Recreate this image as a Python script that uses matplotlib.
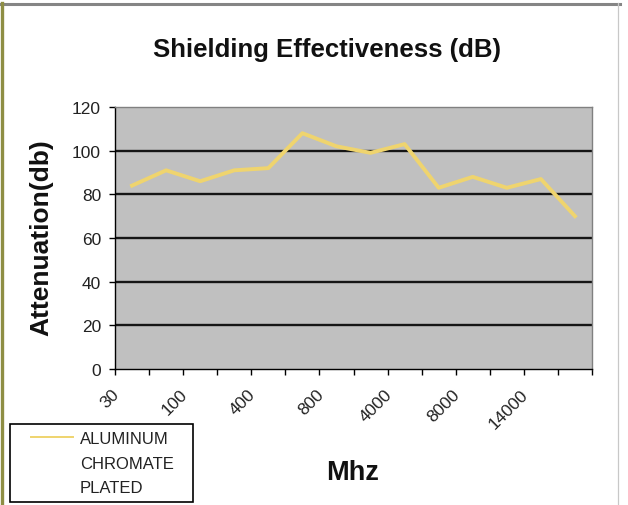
import numpy as np
import matplotlib
matplotlib.use("Agg")
import matplotlib.pyplot as plt
from matplotlib.lines import Line2D
from matplotlib.transforms import ScaledTranslation

# ---------------- data ----------------
title = "Shielding Effectiveness (dB)"
y_label = "Attenuation(db)"
x_label = "Mhz"
series_name = "ALUMINUM\nCHROMATE\nPLATED"
freq_labels = ["30", "100", "400", "800", "4000", "8000", "14000"]   # shown on every 2nd point
attenuation = [84, 91, 86, 91, 92, 108, 102, 99, 103, 83, 88, 83, 87, 70]
y_ticks = [0, 20, 40, 60, 80, 100, 120]

plt.rcParams['font.family'] = ['Liberation Sans', 'DejaVu Sans']

W, H, DPI = 628, 506, 100
fig = plt.figure(figsize=(W / DPI, H / DPI), dpi=DPI)
fig.patch.set_facecolor('white')


def fx(px):
    return px / W


def fy(py):
    return 1 - py / H


ax = fig.add_axes([fx(115), fy(370), fx(592) - fx(115), fy(108) - fy(370)])
ax.set_facecolor('#C0C0C0')

x = np.arange(len(attenuation))
line, = ax.plot(x, attenuation, color='#EFD46E', lw=2.8, zorder=3)

ax.set_xlim(-0.5, len(attenuation) - 0.5)
ax.set_ylim(y_ticks[0], y_ticks[-1])
ax.set_yticks(y_ticks)
for v in y_ticks[1:-1]:
    ax.axhline(v, color='#151515', lw=1.7, zorder=1)

for s in ['left', 'bottom']:
    ax.spines[s].set_color('black')
    ax.spines[s].set_linewidth(1.0)
for s in ['top', 'right']:
    ax.spines[s].set_color('#808080')
    ax.spines[s].set_linewidth(1.0)

ax.tick_params(axis='y', length=4, width=1, color='black', pad=6,
               labelsize=12.5, labelcolor='#222222')

# x axis: tick marks between categories, labels on every second category
ax.set_xticks(np.arange(-0.5, len(attenuation) + 0.5, 1), minor=True)
ax.tick_params(axis='x', which='minor', length=4, width=1, color='black')
ax.set_xticks(x[::2])
ax.set_xticklabels(freq_labels)
ax.tick_params(axis='x', which='major', length=0, pad=16,
               labelsize=12.5, labelcolor='#222222')
offset = ScaledTranslation(-15 / DPI, 0, fig.dpi_scale_trans)
for lab in ax.get_xticklabels():
    lab.set_rotation(45)
    lab.set_ha('right')
    lab.set_va('center')
    lab.set_rotation_mode('anchor')
    lab.set_transform(lab.get_transform() + offset)

# titles
fig.text(fx(327), fy(57), title, fontsize=18.5, fontweight='bold',
         ha='center', va='baseline', color='#111111')
fig.text(fx(41), fy(238), y_label, fontsize=19, fontweight='bold',
         rotation=90, ha='center', va='center', color='#111111')
fig.text(fx(353), fy(480), x_label, fontsize=19.5, fontweight='bold',
         ha='center', va='baseline', color='#111111')

# legend
leg = fig.legend(handles=[line], labels=[series_name], loc='lower left',
                 bbox_to_anchor=(fx(10), fy(503), fx(193) - fx(10), fy(425) - fy(503)),
                 bbox_transform=fig.transFigure, mode='expand', borderaxespad=0,
                 borderpad=0.4, handlelength=3.35, handletextpad=0.45, fontsize=12,
                 frameon=True, fancybox=False, edgecolor='black', framealpha=1)
leg.get_frame().set_linewidth(1.2)
for t in leg.get_texts():
    t.set_linespacing(1.8)
    t.set_color('#222222')

# frame decorations of the chart object
fig.add_artist(Line2D([0, fx(620)], [fy(5), fy(5)], color='#858585', lw=2.2,
                      transform=fig.transFigure))
fig.add_artist(Line2D([fx(1.5), fx(1.5)], [0, fy(4)], color='#8e8e44', lw=2.4,
                      transform=fig.transFigure))
fig.add_artist(Line2D([fx(618), fx(618)], [0, fy(4)], color='#c8c8c8', lw=0.9,
                      transform=fig.transFigure))

# move legend handle to first text line, shorten it from the left
fig.canvas.draw()
hnd = leg.legend_handles[0]
txt = leg.get_texts()[0]
bb = txt.get_window_extent()
font_px = 12 * DPI / 72
target_y = bb.y1 - 0.36 * font_px
xd = np.asarray(hnd.get_xdata(), float)
yd = np.asarray(hnd.get_ydata(), float)
n = max(len(xd), len(yd))
cur = hnd.get_transform().transform([[xd[0], yd[0]]])[0]
dy_pt = (target_y - cur[1]) * 72 / DPI
hnd.set_data(np.linspace(xd.max() - 42 * 72 / DPI, xd.max(), n),
             np.full(n, yd[0] + dy_pt))
hnd.set_markevery(None)
hnd.set_linewidth(1.4)

fig.savefig('out.png', dpi=DPI, facecolor='white')
